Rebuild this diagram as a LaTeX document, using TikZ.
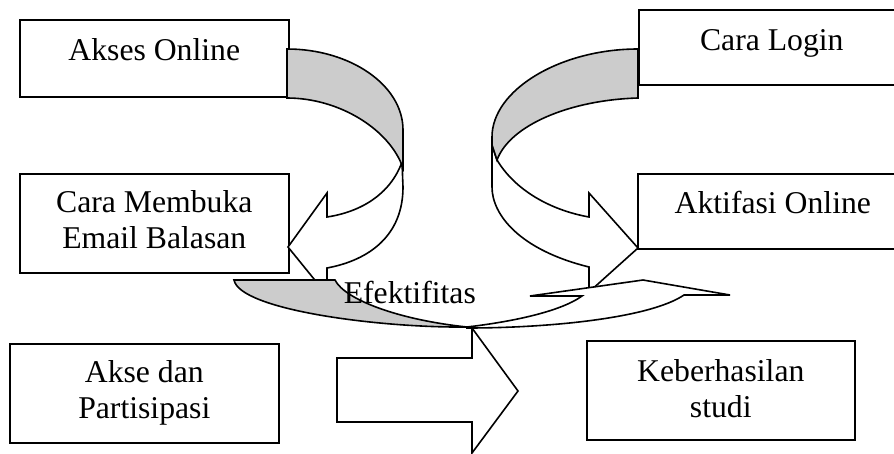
\documentclass[tikz,border=0pt]{standalone}
\usepackage{fontspec}
\setmainfont{Liberation Serif}
\definecolor{ribbon}{gray}{0.8}

\begin{document}
\begin{tikzpicture}[
  x=1pt, y=-1pt,
  line width=1.6pt,
  box/.style={
    draw, rectangle, anchor=north west,
    inner sep=0pt
  },
  txt/.style={
    align=center, inner sep=0pt,
    font=\fontsize{31.7}{36}\selectfont
  },
  front/.style={draw, fill=white},
  back/.style={draw, fill=ribbon}
]
  \useasboundingbox (0,0) rectangle (894,453);
  \foreach \nm/\x/\y/\w/\h in {akses/19/19/269/77, login/638/9/266/75,
      email/19/173/269/99, aktif/637/173/270/75,
      akse/9/343/269/99, hasil/586/340/268/99} {
    \node[box, minimum width=\w, minimum height=\h] (\nm) at (\x,\y){};
  }
  \node[txt, anchor=base] (aksesT) at ([yshift=-41pt]akses.north){Akses Online};
  \node[txt, anchor=base] (loginT) at ([yshift=-41pt]login.north){Cara Login};
  \node[txt, anchor=base] (emailT) at ([yshift=-75pt]email.north){Cara Membuka\\Email Balasan};
  \node[txt, anchor=base] (aktifT) at ([yshift=-40pt]aktif.north){Aktifasi Online};
  \node[txt, anchor=base] (akseT) at ([yshift=-75pt]akse.north){Akse dan\\Partisipasi};
  \node[txt, anchor=base] (hasilT) at ([yshift=-77pt]hasil.north){Keberhasilan\\studi};
  % block arrow
  \draw[front] (337,358) -- (472,358) -- (472,328) -- (518,391)
    -- (472,453) -- (472,422) -- (337,422) -- cycle;
  % left ribbon
  \draw[front] (402,162) .. controls (390,195) and (360,212) .. (327,217)
    -- (327,193) -- (288,247) -- (327,295) -- (327,268)
    .. controls (370,260) and (403,235) .. (403,187) -- cycle;
  \draw[back] (287,49) .. controls (350,49) and (403,85) .. (403,130)
    -- (403,168) .. controls (390,130) and (340,98) .. (287,98) -- cycle;
  % right ribbon
  \draw[front] (497,160) .. controls (515,190) and (550,210) .. (589,217)
    -- (589,193) -- (638,248) -- (589,292) -- (589,267)
    .. controls (520,250) and (492,215) .. (492,187) -- (492,145) -- cycle;
  \draw[back] (638,49) .. controls (560,49) and (492,90) .. (492,137)
    -- (492,145) -- (497,160) .. controls (510,125) and (570,100) .. (638,98) -- cycle;
  % bottom ribbon
  \draw[back] (234,280) -- (335,280) .. controls (345,300) and (400,320) .. (467,327)
    .. controls (380,328) and (240,310) .. (234,280) -- cycle;
  \draw[front] (467,327) .. controls (510,322) and (560,312) .. (582,296)
    -- (530,296) -- (643,280) -- (730,295) -- (684,295)
    .. controls (650,318) and (550,328) .. (467,328) -- cycle;
  \node[txt, anchor=base west] (efek) at (343,303){Efektifitas};
\end{tikzpicture}
\end{document}
